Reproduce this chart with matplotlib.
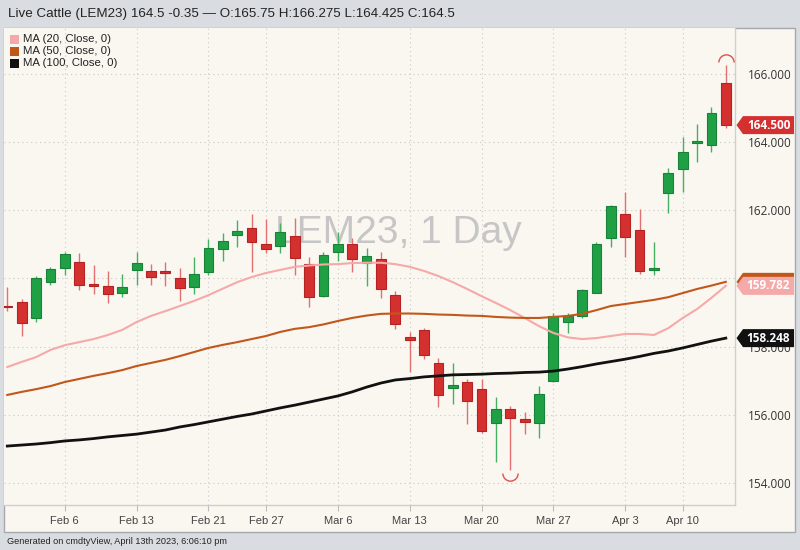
import matplotlib
matplotlib.use("Agg")
import matplotlib.pyplot as plt
from matplotlib.patches import Rectangle, Polygon
from matplotlib.path import Path
from matplotlib import font_manager
import numpy as np

# ── Data: LEM23 daily candles, Jan 31 – Apr 13 2023 ──────────────────────
dates = [
    "Jan 31", "Feb 1", "Feb 2", "Feb 3", "Feb 6", "Feb 7", "Feb 8", "Feb 9", "Feb 10",
    "Feb 13", "Feb 14", "Feb 15", "Feb 16", "Feb 17", "Feb 21", "Feb 22", "Feb 23",
    "Feb 24", "Feb 27", "Feb 28", "Mar 1", "Mar 2", "Mar 3", "Mar 6", "Mar 7", "Mar 8",
    "Mar 9", "Mar 10", "Mar 13", "Mar 14", "Mar 15", "Mar 16", "Mar 17", "Mar 20",
    "Mar 21", "Mar 22", "Mar 23", "Mar 24", "Mar 27", "Mar 28", "Mar 29", "Mar 30",
    "Mar 31", "Apr 3", "Apr 4", "Apr 5", "Apr 6", "Apr 10", "Apr 11", "Apr 12", "Apr 13",
]
opens = [159.19, 159.32, 158.85, 159.90, 160.30, 160.49, 159.81, 159.78, 159.58, 160.25,
         160.23, 160.22, 160.00, 159.74, 160.20, 160.86, 161.27, 161.48, 161.01, 160.96,
         161.25, 160.41, 159.48, 160.78, 161.01, 160.44, 160.57, 159.51, 158.27, 158.48,
         157.51, 156.77, 156.97, 156.75, 155.75, 156.17, 155.86, 155.75, 157.00, 158.73,
         158.90, 159.58, 161.18, 161.89, 161.42, 160.25, 162.50, 163.20, 163.97, 163.93,
         165.75]
highs = [159.74, 159.39, 160.07, 160.34, 160.77, 160.75, 160.39, 160.22, 160.13, 160.77,
         160.42, 160.49, 160.31, 160.64, 161.15, 161.32, 161.71, 161.89, 161.74, 161.62,
         161.76, 160.64, 160.78, 161.35, 161.20, 160.88, 160.78, 159.64, 158.42, 158.55,
         157.67, 157.51, 157.04, 157.04, 156.51, 156.26, 156.09, 156.84, 158.98, 158.99,
         159.69, 161.06, 162.16, 162.53, 162.04, 161.08, 163.23, 164.14, 164.53, 165.04,
         166.275]
lows = [159.04, 158.31, 158.71, 159.82, 160.10, 159.66, 159.53, 159.29, 159.45, 159.81,
        159.81, 159.78, 159.35, 159.53, 160.10, 160.51, 160.91, 160.20, 160.75, 160.74,
        160.10, 159.17, 159.46, 160.51, 160.20, 159.78, 159.43, 158.51, 157.26, 157.63,
        156.24, 156.31, 155.72, 155.47, 154.62, 154.38, 155.43, 155.31, 156.97, 158.41,
        158.85, 159.57, 160.91, 160.62, 160.12, 160.10, 161.93, 162.55, 163.43, 163.70,
        164.425]
closes = [159.15, 158.69, 160.00, 160.28, 160.71, 159.81, 159.78, 159.53, 159.76, 160.44,
          160.05, 160.17, 159.73, 160.13, 160.88, 161.11, 161.40, 161.07, 160.86, 161.35,
          160.60, 159.45, 160.69, 161.00, 160.56, 160.66, 159.68, 158.65, 158.19, 157.75,
          156.58, 156.88, 156.41, 155.53, 156.16, 155.91, 155.79, 156.61, 158.90, 158.90,
          159.66, 161.01, 162.13, 161.22, 160.23, 160.30, 163.10, 163.71, 164.01, 164.85,
          164.50]

# moving averages
ma20 = [157.40, 157.55, 157.69, 157.90, 158.04, 158.13, 158.22, 158.34, 158.49, 158.72,
        158.90, 159.04, 159.19, 159.34, 159.51, 159.70, 159.89, 160.04, 160.16, 160.25,
        160.34, 160.38, 160.41, 160.42, 160.45, 160.46, 160.46, 160.42, 160.34, 160.22,
        160.07, 159.89, 159.69, 159.48, 159.28, 159.07, 158.84, 158.60, 158.40, 158.27,
        158.22, 158.25, 158.31, 158.37, 158.37, 158.34, 158.54, 158.84, 159.10, 159.43,
        159.782]
ma50 = [156.58, 156.67, 156.75, 156.84, 156.96, 157.05, 157.14, 157.22, 157.31, 157.43,
        157.52, 157.61, 157.72, 157.84, 157.96, 158.05, 158.13, 158.22, 158.31, 158.43,
        158.52, 158.57, 158.65, 158.75, 158.84, 158.91, 158.96, 158.97, 158.97, 158.96,
        158.94, 158.93, 158.91, 158.90, 158.87, 158.85, 158.84, 158.84, 158.87, 158.90,
        158.96, 159.07, 159.19, 159.25, 159.31, 159.37, 159.45, 159.57, 159.69, 159.79,
        159.90]
ma100 = [155.08, 155.11, 155.14, 155.18, 155.23, 155.26, 155.30, 155.35, 155.39, 155.43,
         155.49, 155.55, 155.64, 155.71, 155.79, 155.87, 155.95, 156.02, 156.11, 156.20,
         156.28, 156.37, 156.46, 156.55, 156.67, 156.81, 156.93, 157.02, 157.06, 157.11,
         157.14, 157.17, 157.18, 157.19, 157.21, 157.22, 157.24, 157.25, 157.28, 157.34,
         157.41, 157.49, 157.56, 157.63, 157.71, 157.80, 157.87, 157.96, 158.06, 158.16,
         158.248]

tick_dates = ["Feb 6", "Feb 13", "Feb 21", "Feb 27", "Mar 6", "Mar 13",
              "Mar 20", "Mar 27", "Apr 3", "Apr 10"]
price_ticks = [154, 156, 158, 160, 162, 164, 166]
ma_labels = ["MA (20, Close, 0)", "MA (50, Close, 0)", "MA (100, Close, 0)"]

# colours
BG = "#d9dde1"
PANEL = "#faf7f1"
UP = "#20a044"
UP_EDGE = "#178238"
DOWN = "#d53030"
DOWN_EDGE = "#b42222"
MA_COLORS = ["#f5a9a9", "#c2571a", "#111111"]
GRID = "#c9c9c9"

installed = {f.name for f in font_manager.fontManager.ttflist}
SANS = "Liberation Sans" if "Liberation Sans" in installed else "DejaVu Sans"
NARROW = "Liberation Sans Narrow" if "Liberation Sans Narrow" in installed else SANS
AXF = "Open Sans" if "Open Sans" in installed else SANS

W, H = 800, 550


def fx(x):
    return x / W


def fy(y):
    return 1 - y / H


fig = plt.figure(figsize=(8, 5.5), dpi=100, facecolor=BG)

# chart panel (behind the axes)
fig.patches.append(Rectangle((fx(4), fy(532)), fx(791), 504 / H, transform=fig.transFigure,
                             facecolor=PANEL, edgecolor="#a4a8ac", linewidth=1, zorder=-1))

fig.text(fx(8), fy(14), "Live Cattle (LEM23) 164.5 -0.35 \u2014 O:165.75 H:166.275 L:164.425 C:164.5",
         fontsize=9.65, color="#222222", family=SANS, va="center", ha="left")
fig.text(fx(7), fy(541), "Generated on cmdtyView, April 13th 2023, 6:06:10 pm",
         fontsize=6.6, color="#222222", family=NARROW, va="center", ha="left")

# main axes: plot area from x 4..735, y 28..505 px
ax = fig.add_axes([fx(4), fy(505), fx(731), 477 / H])
ax.set_facecolor(PANEL)
ylo, yhi = 153.35, 167.35
ax.set_ylim(ylo, yhi)
ax.set_xlim(-0.23, 50.64)

x = np.arange(len(dates))
o = np.array(opens)
c = np.array(closes)
up = c >= o

# grid
xt = [dates.index(d) for d in tick_dates]
for xi in xt:
    ax.axvline(xi, color=GRID, lw=0.8, ls=(0, (1, 3)), zorder=0.5)
for p in price_ticks:
    ax.axhline(p, color=GRID, lw=0.8, ls=(0, (1, 3)), zorder=0.5)

# watermark
ax.text(fx(398), fy(233), "LEM23, 1 Day", transform=fig.transFigure, fontsize=28,
        color="#c6c6c6", family=SANS, ha="center", va="center", zorder=0.6)

# candles
wick_cols = np.where(up, "#45b062", "#e27070")
ax.vlines(x, lows, highs, colors=wick_cols, lw=1.0, zorder=2)
body_lo = np.minimum(o, c)
body_h = np.maximum(np.abs(c - o), 0.05)
ax.bar(x, body_h, bottom=body_lo, width=0.68,
       color=np.where(up, UP, DOWN), edgecolor=np.where(up, UP_EDGE, DOWN_EDGE),
       linewidth=0.8, zorder=3)

# moving averages
ax.plot(x, ma20, color=MA_COLORS[0], lw=1.5, zorder=4)
ax.plot(x, ma50, color=MA_COLORS[1], lw=1.5, zorder=4)
ax.plot(x, ma100, color=MA_COLORS[2], lw=2.0, zorder=4)

# high / low markers
hi_i = int(np.argmax(highs))
lo_i = int(np.argmin(lows))
ax.plot([hi_i], [highs[hi_i] + 0.08], marker=Path.arc(0, 180), markersize=11,
        markerfacecolor="none", markeredgecolor="#d9534f", markeredgewidth=1, zorder=5)
ax.plot([lo_i], [lows[lo_i] - 0.08], marker=Path.arc(180, 360), markersize=11,
        markerfacecolor="none", markeredgecolor="#d9534f", markeredgewidth=1, zorder=5)

# axes styling
for s in ["top", "left"]:
    ax.spines[s].set_visible(False)
for s in ["bottom", "right"]:
    ax.spines[s].set_color("#cfcfcf")
    ax.spines[s].set_linewidth(1)
ax.yaxis.tick_right()
ax.set_yticks(price_ticks)
ax.set_yticklabels([f"{p:.3f}" for p in price_ticks], family=AXF, fontsize=8.5, color="#333333")
ax.tick_params(axis="y", length=0, pad=9.5)
ax.set_xticks(xt)
ax.set_xticklabels(tick_dates, family=NARROW, fontsize=8, color="#444444")
ax.tick_params(axis="x", length=4, width=0.8, color="#bdbdbd", pad=4)

# legend
for k, (lab, col) in enumerate(zip(ma_labels, MA_COLORS)):
    yc = 39.5 + 12 * k
    fig.patches.append(Rectangle((fx(10), fy(yc + 4.2)), fx(8.5), 8.4 / H,
                                 transform=fig.transFigure, facecolor=col,
                                 edgecolor="none", zorder=5))
    fig.text(fx(23), fy(yc), lab, fontsize=8.2, color="#222222", family=SANS,
             va="center", ha="left", zorder=6)

# price tags on the right axis
tag = fig.add_axes([fx(735), fy(505), fx(60), 477 / H])
tag.set_xlim(0, 60)
tag.set_ylim(ylo, yhi)
tag.axis("off")
hh = 9 / (477 / (yhi - ylo))
tags = [(ma50[-1], MA_COLORS[1], None),
        (ma20[-1], MA_COLORS[0], f"{ma20[-1]:.3f}"),
        (ma100[-1], MA_COLORS[2], f"{ma100[-1]:.3f}"),
        (closes[-1], DOWN, f"{closes[-1]:.3f}")]
for v, col, txt in tags:
    tag.add_patch(Polygon([(1.5, v), (8, v + hh), (59, v + hh), (59, v - hh), (8, v - hh)],
                          closed=True, facecolor=col, edgecolor="none"))
    if txt:
        tag.text(33.5, v, txt, color="white", fontsize=8.5, fontweight="bold",
                 family=AXF, ha="center", va="center")

fig.savefig("out.png", dpi=100, facecolor=BG)
